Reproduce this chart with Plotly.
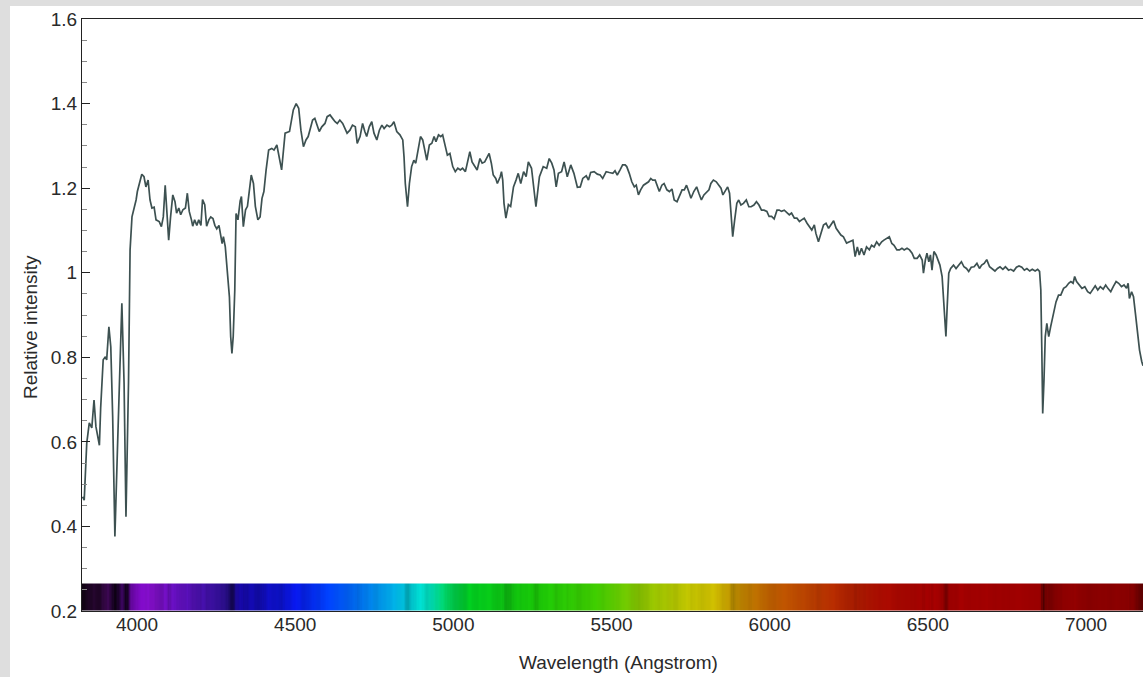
import numpy as np
import plotly.graph_objects as go

# ---------------- data ----------------
wavelength = [
    3828, 3833, 3841, 3849, 3857, 3864, 3870, 3881, 3885, 3893, 3900, 3904, 3911, 3917, 3923, 3930,
    3938, 3944, 3952, 3959, 3965, 3973, 3978, 3984, 3991, 3997, 4001, 4007, 4015, 4022, 4028, 4035,
    4041, 4047, 4054, 4060, 4070, 4077, 4083, 4089, 4096, 4100, 4106, 4113, 4120, 4125, 4132, 4138,
    4145, 4153, 4159, 4165, 4172, 4176, 4182, 4189, 4195, 4202, 4207, 4214, 4220, 4227, 4233, 4240,
    4246, 4252, 4259, 4265, 4269, 4273, 4279, 4285, 4292, 4296, 4300, 4304, 4309, 4313, 4319, 4326,
    4330, 4336, 4343, 4349, 4355, 4361, 4368, 4374, 4382, 4389, 4395, 4401, 4408, 4416, 4426, 4433,
    4442, 4450, 4457, 4468, 4482, 4494, 4503, 4511, 4518, 4526, 4534, 4541, 4546, 4555, 4562, 4570,
    4576, 4584, 4594, 4601, 4610, 4618, 4626, 4633, 4641, 4650, 4657, 4664, 4673, 4681, 4690, 4696,
    4705, 4713, 4720, 4726, 4734, 4742, 4749, 4758, 4766, 4774, 4781, 4790, 4798, 4805, 4812, 4821,
    4831, 4840, 4844, 4848, 4855, 4861, 4868, 4875, 4881, 4889, 4896, 4903, 4910, 4916, 4924, 4932,
    4939, 4945, 4953, 4960, 4966, 4974, 4981, 4989, 4998, 5006, 5014, 5022, 5029, 5038, 5045, 5052,
    5059, 5067, 5075, 5084, 5091, 5099, 5107, 5113, 5120, 5126, 5134, 5139, 5148, 5152, 5156, 5160,
    5166, 5174, 5181, 5190, 5198, 5205, 5213, 5222, 5230, 5237, 5247, 5261, 5272, 5284, 5295, 5303,
    5311, 5318, 5325, 5332, 5342, 5350, 5360, 5371, 5381, 5392, 5401, 5409, 5420, 5427, 5434, 5445,
    5455, 5464, 5472, 5483, 5493, 5504, 5511, 5518, 5527, 5535, 5543, 5548, 5556, 5564, 5572, 5578,
    5585, 5592, 5601, 5609, 5617, 5624, 5630, 5638, 5643, 5651, 5659, 5666, 5675, 5683, 5691, 5698,
    5707, 5715, 5723, 5730, 5737, 5744, 5751, 5760, 5769, 5776, 5784, 5792, 5801, 5808, 5814, 5822,
    5831, 5838, 5846, 5852, 5860, 5867, 5873, 5877, 5883, 5889, 5896, 5902, 5909, 5917, 5926, 5934,
    5941, 5950, 5958, 5966, 5974, 5982, 5991, 5998, 6006, 6014, 6023, 6030, 6037, 6046, 6055, 6062,
    6069, 6078, 6086, 6094, 6101, 6109, 6118, 6125, 6133, 6141, 6146, 6154, 6161, 6170, 6178, 6186,
    6193, 6202, 6210, 6218, 6225, 6233, 6243, 6254, 6263, 6270, 6277, 6283, 6290, 6298, 6306, 6315,
    6322, 6330, 6338, 6346, 6354, 6361, 6370, 6378, 6386, 6393, 6402, 6410, 6418, 6425, 6434, 6442,
    6450, 6457, 6466, 6474, 6482, 6486, 6492, 6497, 6503, 6508, 6513, 6519, 6526, 6532, 6538, 6545,
    6551, 6557, 6561, 6566, 6572, 6581, 6589, 6597, 6606, 6614, 6622, 6629, 6637, 6646, 6655, 6663,
    6670, 6678, 6686, 6695, 6703, 6712, 6720, 6728, 6737, 6745, 6755, 6762, 6771, 6780, 6788, 6797,
    6805, 6813, 6822, 6830, 6839, 6847, 6853, 6857, 6860, 6863, 6867, 6871, 6876, 6882, 6888, 6897,
    6905, 6913, 6920, 6929, 6937, 6945, 6952, 6959, 6964, 6970, 6979, 6987, 6996, 7005, 7013, 7022,
    7029, 7037, 7045, 7054, 7062, 7069, 7078, 7086, 7095, 7103, 7112, 7120, 7128, 7133, 7137, 7144,
    7150, 7156, 7162, 7169, 7176, 7180,
]
intensity = [
    0.470, 0.462, 0.597, 0.645, 0.633, 0.699, 0.636, 0.592, 0.680, 0.794, 0.801, 0.794, 0.872, 0.825, 0.659, 0.376,
    0.581, 0.739, 0.928, 0.739, 0.423, 0.739, 1.054, 1.132, 1.153, 1.172, 1.192, 1.211, 1.233, 1.227, 1.203, 1.219,
    1.172, 1.153, 1.155, 1.125, 1.121, 1.109, 1.132, 1.207, 1.132, 1.077, 1.132, 1.184, 1.168, 1.141, 1.153, 1.137,
    1.149, 1.153, 1.188, 1.145, 1.125, 1.110, 1.125, 1.112, 1.125, 1.112, 1.173, 1.161, 1.110, 1.125, 1.132, 1.128,
    1.112, 1.104, 1.112, 1.089, 1.069, 1.085, 1.061, 1.006, 0.943, 0.849, 0.809, 0.849, 0.959, 1.140, 1.125, 1.170,
    1.180, 1.109, 1.149, 1.157, 1.203, 1.231, 1.211, 1.157, 1.125, 1.132, 1.176, 1.192, 1.243, 1.290, 1.294, 1.290,
    1.302, 1.274, 1.243, 1.330, 1.334, 1.385, 1.400, 1.389, 1.337, 1.298, 1.314, 1.322, 1.334, 1.361, 1.365, 1.345,
    1.334, 1.345, 1.353, 1.369, 1.373, 1.365, 1.357, 1.353, 1.361, 1.353, 1.341, 1.330, 1.337, 1.349, 1.345, 1.306,
    1.322, 1.353, 1.334, 1.322, 1.345, 1.357, 1.330, 1.314, 1.337, 1.349, 1.341, 1.349, 1.345, 1.349, 1.357, 1.334,
    1.326, 1.314, 1.274, 1.211, 1.156, 1.211, 1.251, 1.266, 1.259, 1.298, 1.322, 1.314, 1.286, 1.266, 1.302, 1.306,
    1.322, 1.310, 1.326, 1.322, 1.326, 1.302, 1.278, 1.282, 1.251, 1.239, 1.247, 1.243, 1.247, 1.239, 1.262, 1.286,
    1.262, 1.251, 1.243, 1.270, 1.259, 1.262, 1.274, 1.282, 1.259, 1.231, 1.223, 1.211, 1.227, 1.239, 1.219, 1.164,
    1.129, 1.161, 1.157, 1.203, 1.219, 1.235, 1.211, 1.239, 1.227, 1.262, 1.247, 1.156, 1.227, 1.251, 1.247, 1.270,
    1.259, 1.243, 1.203, 1.235, 1.239, 1.262, 1.227, 1.255, 1.235, 1.202, 1.203, 1.223, 1.229, 1.219, 1.237, 1.239,
    1.233, 1.231, 1.223, 1.239, 1.237, 1.235, 1.241, 1.231, 1.243, 1.255, 1.255, 1.251, 1.235, 1.215, 1.203, 1.207,
    1.184, 1.196, 1.207, 1.211, 1.215, 1.223, 1.219, 1.219, 1.207, 1.192, 1.207, 1.211, 1.196, 1.192, 1.198, 1.172,
    1.168, 1.184, 1.196, 1.196, 1.207, 1.192, 1.176, 1.192, 1.203, 1.188, 1.172, 1.184, 1.192, 1.196, 1.211, 1.219,
    1.215, 1.207, 1.200, 1.184, 1.196, 1.203, 1.188, 1.140, 1.085, 1.124, 1.164, 1.172, 1.160, 1.164, 1.172, 1.156,
    1.156, 1.160, 1.168, 1.160, 1.148, 1.148, 1.145, 1.133, 1.133, 1.127, 1.148, 1.148, 1.145, 1.148, 1.141, 1.137,
    1.141, 1.129, 1.129, 1.121, 1.125, 1.129, 1.117, 1.109, 1.101, 1.113, 1.093, 1.073, 1.093, 1.113, 1.117, 1.105,
    1.113, 1.123, 1.105, 1.097, 1.089, 1.085, 1.070, 1.074, 1.077, 1.038, 1.061, 1.042, 1.058, 1.042, 1.061, 1.054,
    1.065, 1.061, 1.073, 1.065, 1.073, 1.077, 1.081, 1.085, 1.069, 1.065, 1.054, 1.054, 1.058, 1.054, 1.058, 1.054,
    1.046, 1.034, 1.034, 1.042, 1.030, 0.999, 1.030, 1.046, 1.026, 1.042, 1.006, 1.050, 1.042, 1.030, 1.018, 0.991,
    0.920, 0.849, 0.920, 0.999, 1.010, 1.018, 1.010, 1.018, 1.026, 1.014, 1.010, 1.003, 1.013, 1.014, 1.022, 1.010,
    1.018, 1.022, 1.031, 1.014, 1.010, 1.004, 1.010, 1.014, 1.008, 1.014, 1.006, 1.008, 1.004, 1.013, 1.016, 1.013,
    1.006, 1.010, 1.004, 1.008, 1.004, 1.008, 1.003, 0.959, 0.825, 0.667, 0.746, 0.849, 0.880, 0.849, 0.872, 0.904,
    0.931, 0.947, 0.947, 0.963, 0.967, 0.975, 0.979, 0.975, 0.991, 0.979, 0.971, 0.963, 0.967, 0.955, 0.951, 0.963,
    0.969, 0.959, 0.967, 0.961, 0.971, 0.963, 0.955, 0.967, 0.979, 0.975, 0.967, 0.971, 0.963, 0.975, 0.939, 0.955,
    0.943, 0.904, 0.857, 0.817, 0.790, 0.780,
]

x_tick_values = [4000, 4500, 5000, 5500, 6000, 6500, 7000]
x_tick_labels = ["4000", "4500", "5000", "5500", "6000", "6500", "7000"]
y_tick_values = [0.2, 0.4, 0.6, 0.8, 1.0, 1.2, 1.4, 1.6]
y_tick_labels = ["0.2", "0.4", "0.6", "0.8", "1", "1.2", "1.4", "1.6"]
x_title = "Wavelength (Angstrom)"
y_title = "Relative intensity"

x_range = [3826, 7180]
y_range = [0.2, 1.6]
band_top = 0.265

# ---------------- styling helpers for the rainbow strip ----------------
band_anchor_wl = [3826, 3880, 3915, 3945, 3990, 4050, 4120, 4200, 4280, 4330, 4420, 4500, 4600, 4700,
                  4800, 4880, 4930, 4980, 5050, 5250, 5450, 5600, 5750, 5820, 5870, 5920, 6000, 6100,
                  6220, 6350, 6500, 6800, 7000, 7184]
band_anchor_col = ["#2e0a36", "#3a0848", "#4a0868", "#5a0890", "#7a08c0", "#8c10d8", "#6a10c8", "#4a10b0",
                   "#3010a0", "#1808b8", "#1010d8", "#0818f0", "#0040ff", "#0070f0", "#00a8e8", "#00e8e8",
                   "#00d8b0", "#00d860", "#00d020", "#18cc08", "#40d000", "#90c800", "#c8c800", "#d0c000",
                   "#c8a000", "#c08000", "#c06000", "#c04800", "#b82800", "#ac0c00", "#a80000", "#a00000",
                   "#900000", "#880000"]


def hex_to_rgb(h):
    return [int(h[i:i + 2], 16) for i in (1, 3, 5)]


anchor_rgb = np.array([hex_to_rgb(c) for c in band_anchor_col], dtype=float)

step = 4
edges = np.arange(x_range[0], x_range[1] + step, step, dtype=float)
centers = (edges[:-1] + edges[1:]) / 2
wl = np.array(wavelength, dtype=float)
it = np.array(intensity, dtype=float)
inten_c = np.interp(centers, wl, it)
# local continuum (running max) to derive line darkness
half = int(70 / step)
cont = np.array([inten_c[max(0, i - half): i + half + 1].max() for i in range(len(centers))])
bright = np.clip(inten_c / cont, 0, 1) ** 1.8

colors = []
for c, b in zip(centers, bright):
    rgb = [np.interp(c, band_anchor_wl, anchor_rgb[:, k]) * b for k in range(3)]
    colors.append("rgb(%d,%d,%d)" % tuple(int(round(v)) for v in rgb))

n = len(centers)
colorscale = [[i / (n - 1), colors[i]] for i in range(n)]

fig = go.Figure()

fig.add_trace(go.Heatmap(
    x=edges, y=[y_range[0], band_top], z=[list(range(n))],
    colorscale=colorscale, zmin=0, zmax=n - 1, showscale=False,
    hoverinfo="skip", zsmooth=False,
))

fig.add_trace(go.Scatter(
    x=wavelength, y=intensity, mode="lines",
    line=dict(color="#3d5151", width=1.7),
    showlegend=False, hoverinfo="skip",
))

font_family = "Liberation Sans, Arial, sans-serif"
plot_w = 1143 - 82
plot_h = 611 - 19

fig.update_layout(
    width=1143, height=677,
    margin=dict(l=82, r=0, t=19, b=66),
    paper_bgcolor="#dedede",
    plot_bgcolor="white",
    font=dict(family=font_family, size=19, color="#2a2a2a"),
    showlegend=False,
    shapes=[dict(type="rect", xref="paper", yref="paper",
                 x0=-72 / plot_w, x1=1.01, y0=-0.12, y1=(611 - 6) / plot_h,
                 fillcolor="white", line=dict(width=0), layer="below")],
    annotations=[
        dict(text=x_title, xref="paper", yref="paper",
             x=(618 - 82) / plot_w, y=(611 - 662) / plot_h,
             xanchor="center", yanchor="middle", showarrow=False,
             font=dict(size=19)),
        dict(text=y_title, xref="paper", yref="paper", textangle=-90,
             x=(30 - 82) / plot_w, y=(611 - 327) / plot_h,
             xanchor="center", yanchor="middle", showarrow=False,
             font=dict(size=19)),
    ],
)

fig.update_xaxes(
    range=x_range, tickvals=x_tick_values, ticktext=x_tick_labels,
    ticks="", showgrid=False, zeroline=False, ticklabelstandoff=-4,
    showline=True, linecolor="#222222", linewidth=1, mirror=True,
)
fig.update_yaxes(
    range=y_range, tickvals=y_tick_values, ticktext=y_tick_labels,
    ticks="inside", ticklen=8, tickcolor="#222222", tickwidth=1,
    minor=dict(dtick=0.05, tick0=0.2, ticks="inside", ticklen=5, tickcolor="#888888"),
    showgrid=False, zeroline=False,
    showline=True, linecolor="#222222", linewidth=1,
)

fig.write_html("out.html")
